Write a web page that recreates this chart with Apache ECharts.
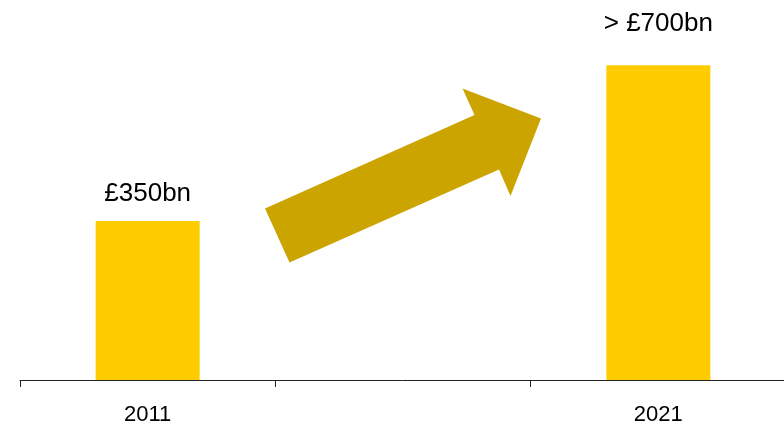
<!DOCTYPE html>
<html>
<head>
<meta charset="utf-8">
<script src="https://cdn.jsdelivr.net/npm/echarts@6/dist/echarts.min.js"></script>
<style>html,body{margin:0;padding:0;background:#fff}#c{width:784px;height:424px}</style>
</head>
<body>
<div id="c"></div>
<script>
const categories = ['2011', '', '2021'];
const values = [350, null, 693];
const valueLabels = ['£350bn', '', '> £700bn'];

const chart = echarts.init(document.getElementById('c'), null, {renderer: 'canvas'});
const FONT = '"Liberation Sans", Arial, sans-serif';

chart.setOption({
  animation: false,
  grid: {left: 20, right: -2, top: 16.6, bottom: 44, containLabel: false, outerBoundsMode: 'none'},
  xAxis: {
    type: 'category',
    data: categories,
    boundaryGap: true,
    axisLine: {show: true, lineStyle: {color: '#222', width: 1}},
    axisTick: {show: true, length: 7, lineStyle: {color: '#222'}},
    axisLabel: {color: '#000', fontSize: 22, fontFamily: FONT, margin: 24}
  },
  yAxis: {
    type: 'value', min: 0, max: 800, show: false,
    splitLine: {show: false}
  },
  series: [{
    type: 'bar',
    data: values.map((v, i) => ({
      value: v,
      label: {
        show: v != null,
        position: 'top',
        distance: i === 0 ? 14 : 28,
        formatter: valueLabels[i],
        color: '#000',
        fontSize: 26,
        fontFamily: FONT
      }
    })),
    barWidth: 104,
    itemStyle: {color: '#FFCC00'},
    z: 1
  }],
  graphic: [{
    type: 'polygon',
    shape: {points: [[265, 208.5], [289.5, 262.5], [499, 169.5], [510.5, 196], [541, 118.5], [462.5, 88.5], [474.5, 115]]},
    style: {fill: '#CCA400'},
    z: 10
  }]
});
</script>
</body>
</html>
